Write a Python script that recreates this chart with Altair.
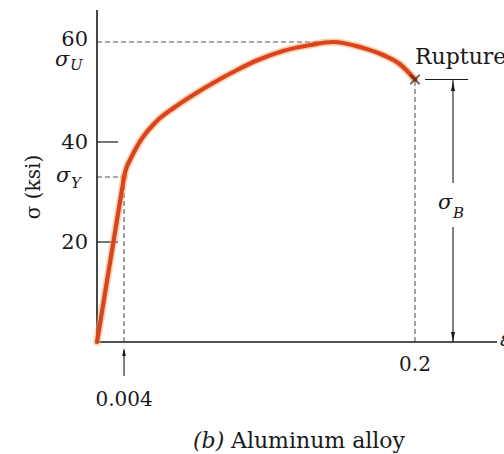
import altair as alt
import pandas as pd

# Stress-strain curve for an aluminum alloy (strain in in./in., stress in ksi)
# Elastic region: straight line up to the yield point
elastic_strain = [0, 0.004]
elastic_stress = [0, 33]
# Plastic region: from yield through the ultimate stress to rupture
plastic_strain = [0.004, 0.00447, 0.00549, 0.00658, 0.00805, 0.01028, 0.0127, 0.01532,
                  0.0215, 0.0284, 0.0404, 0.0544, 0.0679, 0.0854, 0.1059, 0.125,
                  0.148, 0.169, 0.185, 0.2]
plastic_stress = [33, 34.6, 36.4, 38.0, 39.8, 41.8, 43.4, 44.8,
                  47.0, 49.0, 51.8, 54.4, 56.4, 58.2, 59.4, 60,
                  59.0, 57.4, 55.6, 52.5]

# Characteristic points
yield_strain = 0.004
yield_stress = 33
ultimate_strain = 0.125
ultimate_stress = 60
rupture_strain = 0.2
rupture_stress = 52.5

# Axis labels
y_tick_values = [20, 40, 60]
y_tick_labels = ["20", "40", "60"]
x_tick_values = [0.004, 0.2]
x_tick_labels = ["0.004", "0.2"]

FONT = "DejaVu Serif"
INK = "#1a1a1a"
DASH = "#555555"
CURVE = "#d9431f"

# Strain axis is drawn out of scale: a power scale stretches the elastic part
xs = alt.Scale(type="pow", exponent=0.63, domain=[0, 0.2879], nice=False, zero=False)
ys = alt.Scale(domain=[0, 66.4], nice=False, zero=False)

elastic_df = pd.DataFrame({"strain": elastic_strain, "stress": elastic_stress})
plastic_df = pd.DataFrame({"strain": plastic_strain, "stress": plastic_stress})

guides_df = pd.DataFrame({
    "x0": [0, 0, yield_strain, rupture_strain],
    "x1": [ultimate_strain, yield_strain, yield_strain, rupture_strain],
    "y0": [ultimate_stress, yield_stress, 0, 0],
    "y1": [ultimate_stress, yield_stress, yield_stress, rupture_stress],
})

base = alt.Chart(pd.DataFrame({"k": [0]}))

# Axis frame
y_axis = base.mark_rule(color=INK, strokeWidth=1.6).encode(
    x=alt.value(0), y=alt.value(0), y2=alt.value(332))
x_axis = base.mark_rule(color=INK, strokeWidth=1.6).encode(
    x=alt.value(0), x2=alt.value(400), y=alt.value(332))

tick_df = pd.DataFrame({"v": y_tick_values, "label": y_tick_labels})
y_ticks = alt.Chart(tick_df[tick_df.v < 60]).mark_rule(color=INK, strokeWidth=1.2).encode(
    y=alt.Y("v:Q", scale=ys, axis=None), x=alt.value(0), x2=alt.value(21))
y_labels_low = alt.Chart(tick_df[tick_df.v < 60]).mark_text(
    font=FONT, fontSize=21, align="right", baseline="middle", color=INK, dy=1).encode(
    y=alt.Y("v:Q", scale=ys, axis=None), x=alt.value(-9), text="label:N")
y_label_top = alt.Chart(tick_df[tick_df.v == 60]).mark_text(
    font=FONT, fontSize=21, align="right", baseline="middle", color=INK, dy=-2).encode(
    y=alt.Y("v:Q", scale=ys, axis=None), x=alt.value(-9), text="label:N")

xt_df = pd.DataFrame({"v": x_tick_values, "label": x_tick_labels})
x_label_small = alt.Chart(xt_df[xt_df.v < 0.01]).mark_text(
    font=FONT, fontSize=20, align="center", baseline="middle", color=INK).encode(
    x=alt.X("v:Q", scale=xs, axis=None), y=alt.value(390), text="label:N")
x_label_big = alt.Chart(xt_df[xt_df.v > 0.01]).mark_text(
    font=FONT, fontSize=20, align="center", baseline="middle", color=INK).encode(
    x=alt.X("v:Q", scale=xs, axis=None), y=alt.value(355), text="label:N")

guides = alt.Chart(guides_df).mark_rule(
    color=DASH, strokeWidth=1.1, strokeDash=[5, 3]).encode(
    x=alt.X("x0:Q", scale=xs, axis=None), x2="x1:Q",
    y=alt.Y("y0:Q", scale=ys, axis=None), y2="y1:Q")


def curve(df, interp):
    enc = dict(x=alt.X("strain:Q", scale=xs, axis=None),
               y=alt.Y("stress:Q", scale=ys, axis=None))
    halo = alt.Chart(df).mark_line(
        color="#f3a35e", strokeWidth=7.5, opacity=0.5, interpolate=interp,
        strokeCap="round").encode(**enc)
    core = alt.Chart(df).mark_line(
        color=CURVE, strokeWidth=4.2, interpolate=interp, strokeCap="round").encode(**enc)
    return halo, core


elastic_halo, elastic_line = curve(elastic_df, "linear")
plastic_halo, plastic_line = curve(plastic_df, "monotone")

rup_df = pd.DataFrame({"strain": [rupture_strain], "stress": [rupture_stress]})
rupture_mark = alt.Chart(rup_df).mark_point(
    shape="M-1,-1L1,1M-1,1L1,-1", filled=False, color="#3a2a2a",
    strokeWidth=1.8, size=90).encode(
    x=alt.X("strain:Q", scale=xs, axis=None), y=alt.Y("stress:Q", scale=ys, axis=None))
rupture_text = base.mark_text(
    font=FONT, fontSize=22, align="left", baseline="alphabetic", color=INK).encode(
    x=alt.value(318), y=alt.value(54), text=alt.value("Rupture"))

# Arrow below the axis marking the yield strain
ys_df = pd.DataFrame({"strain": [yield_strain]})
yield_arrow = alt.Chart(ys_df).mark_rule(color=INK, strokeWidth=1.1).encode(
    x=alt.X("strain:Q", scale=xs, axis=None), y=alt.value(340), y2=alt.value(366))
yield_head = alt.Chart(ys_df).mark_point(
    shape="M0,-1L0.45,1L-0.45,1Z", filled=True, color=INK, opacity=1, size=64).encode(
    x=alt.X("strain:Q", scale=xs, axis=None), y=alt.value(342))

# Dimension arrow for the breaking strength
dim_top = alt.Chart(rup_df).mark_rule(color=INK, strokeWidth=1.1).encode(
    x=alt.value(356), y=alt.Y("stress:Q", scale=ys, axis=None), y2=alt.value(173))
dim_bottom = base.mark_rule(color=INK, strokeWidth=1.1).encode(
    x=alt.value(356), y=alt.value(217), y2=alt.value(332))
dim_cap = alt.Chart(rup_df).mark_rule(color=INK, strokeWidth=1.1).encode(
    x=alt.value(328), x2=alt.value(371), y=alt.Y("stress:Q", scale=ys, axis=None))
dim_head_up = base.mark_point(
    shape="M0,-1L0.4,1L-0.4,1Z", filled=True, color=INK, opacity=1, size=100).encode(
    x=alt.value(356), y=alt.value(76))
dim_head_down = base.mark_point(
    shape="M0,1L0.4,-1L-0.4,-1Z", filled=True, color=INK, opacity=1, size=100).encode(
    x=alt.value(356), y=alt.value(327))


def sigma(x, y, sub, sub_dy, size=21):
    s = base.mark_text(font=FONT, fontSize=size, fontStyle="italic", align="left",
                       baseline="middle", color=INK).encode(
        x=alt.value(x), y=alt.value(y), text=alt.value("σ"))
    b = base.mark_text(font=FONT, fontSize=15, fontStyle="italic", align="left",
                       baseline="middle", color=INK).encode(
        x=alt.value(x + 15), y=alt.value(y + sub_dy), text=alt.value(sub))
    return s + b


sigma_u = sigma(-42, 50, "U", 5)
sigma_y = sigma(-41, 166, "Y", 7)
sigma_b = sigma(341, 193, "B", 10)

axis_title = base.mark_text(
    font=FONT, fontSize=20, angle=270, align="center", baseline="middle", color=INK).encode(
    x=alt.value(-63), y=alt.value(177), text=alt.value("σ (ksi)"))
eps = base.mark_text(
    font=FONT, fontSize=20, fontStyle="italic", align="left", baseline="middle", color=INK).encode(
    x=alt.value(403), y=alt.value(330), text=alt.value("ε"))

caption_b = base.mark_text(
    font=FONT, fontSize=22, fontStyle="italic", align="left", baseline="alphabetic", color=INK).encode(
    x=alt.value(96), y=alt.value(438), text=alt.value("(b)"))
caption = base.mark_text(
    font=FONT, fontSize=22, align="left", baseline="alphabetic", color=INK).encode(
    x=alt.value(134), y=alt.value(438), text=alt.value("Aluminum alloy"))

chart = alt.layer(
    guides, y_axis, x_axis, y_ticks, y_labels_low, y_label_top, x_label_small, x_label_big,
    elastic_halo, plastic_halo, elastic_line, plastic_line,
    rupture_mark, rupture_text,
    yield_arrow, yield_head,
    dim_top, dim_bottom, dim_cap, dim_head_up, dim_head_down,
    sigma_u, sigma_y, sigma_b, axis_title, eps, caption_b, caption,
).properties(
    width=400, height=332,
    padding={"left": 97, "top": 10, "right": 7, "bottom": 112},
    autosize=alt.AutoSizeParams(type="none"),
    background="white",
).configure_view(stroke=None)

chart.save("out.html", embed_options={"renderer": "svg", "actions": False})
